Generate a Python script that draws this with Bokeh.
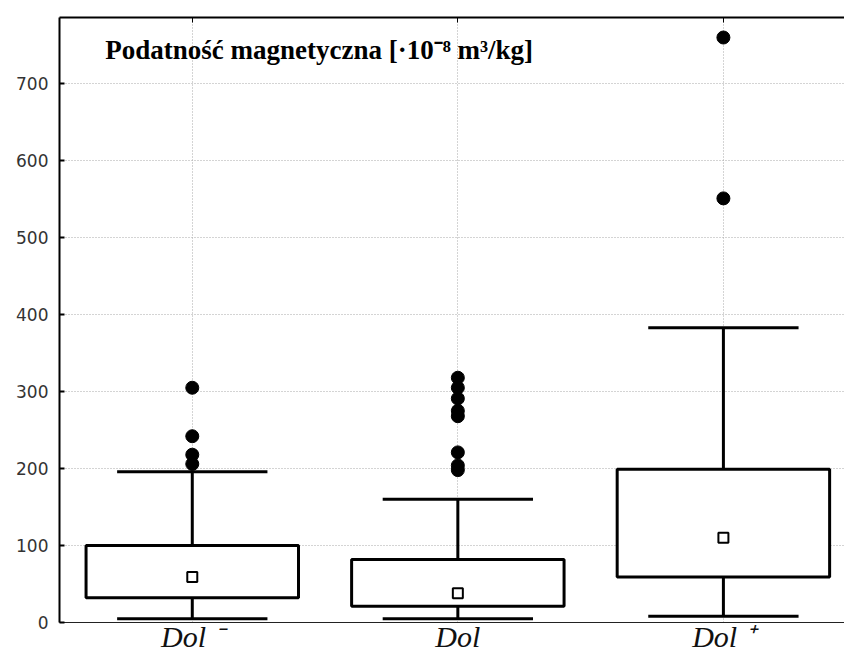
from bokeh.plotting import figure
from bokeh.models import FixedTicker, LinearAxis, Range1d, Label
from bokeh.embed import file_html
from bokeh.resources import INLINE

# ---- data ----
categories = ["Dol ⁻", "Dol", "Dol ⁺"]
lower_whisker = [5, 5, 8]
q1 = [32, 21, 59]
q3 = [100, 82, 199]
upper_whisker = [196, 160, 383]
means = [59, 38, 110]
outlier_cat = [0, 0, 0, 0, 1, 1, 1, 1, 1, 1, 1, 1, 2, 2]
outlier_val = [305, 242, 218, 206, 318, 305, 291, 275, 268, 221, 204, 198, 760, 551]
y_ticks = [0, 100, 200, 300, 400, 500, 600, 700]
title_text = "Podatność magnetyczna [·10⁻⁸ m³/kg]"

xs = [i + 1 for i in range(len(categories))]
box_w = 0.80
cap_half = 0.283

p = figure(width=844, height=655, output_backend="svg", toolbar_location=None,
           x_range=Range1d(0.5, 3.456), y_range=Range1d(0, 786),
           min_border_left=59, min_border_right=0, min_border_top=17,
           min_border_bottom=33)
p.outline_line_color = None
p.background_fill_color = "white"
p.border_fill_color = "white"

# grids
p.xgrid.ticker = FixedTicker(ticks=xs)
p.ygrid.ticker = FixedTicker(ticks=y_ticks)
for g in (p.xgrid, p.ygrid):
    g.grid_line_color = "#a8a8a8"
    g.grid_line_dash = "1 2"
    g.grid_line_width = 1

# axes
p.xaxis.ticker = FixedTicker(ticks=xs)
p.xaxis.major_label_overrides = {x: c for x, c in zip(xs, categories)}
p.xaxis.major_label_text_font = "Liberation Serif"
p.xaxis.major_label_text_font_style = "italic"
p.xaxis.major_label_text_font_size = "30px"
p.xaxis.major_label_text_color = "#111111"
p.xaxis.major_label_standoff = -3
p.xaxis.major_tick_out = 0
p.xaxis.major_tick_in = 0
p.xaxis.minor_tick_line_color = None
p.xaxis.axis_line_width = 1
p.xaxis.axis_line_color = "#222222"

p.yaxis.ticker = FixedTicker(ticks=y_ticks)
p.yaxis.major_label_text_font = "DejaVu Sans"
p.yaxis.major_label_text_font_size = "17px"
p.yaxis.major_label_text_color = "#333333"
p.yaxis.major_label_standoff = 11
p.yaxis.major_tick_out = 0
p.yaxis.major_tick_in = 5
p.yaxis.major_tick_line_width = 2
p.yaxis.minor_tick_line_color = None
p.yaxis.axis_line_width = 2
p.yaxis.axis_line_color = "black"

top_axis = LinearAxis(ticker=FixedTicker(ticks=[], minor_ticks=xs),
                      major_tick_line_color=None, minor_tick_out=0, minor_tick_in=5,
                      minor_tick_line_width=1, minor_tick_line_color="black",
                      axis_line_width=2, axis_line_color="black")
p.add_layout(top_axis, "above")

# whiskers
p.segment(x0=xs, x1=xs, y0=q3, y1=upper_whisker, line_color="black", line_width=3)
p.segment(x0=xs, x1=xs, y0=lower_whisker, y1=q1, line_color="black", line_width=3)
# caps
p.segment(x0=[x - cap_half for x in xs], x1=[x + cap_half for x in xs],
          y0=upper_whisker, y1=upper_whisker, line_color="black", line_width=3)
p.segment(x0=[x - cap_half for x in xs], x1=[x + cap_half for x in xs],
          y0=lower_whisker, y1=lower_whisker, line_color="black", line_width=3)
# boxes
p.vbar(x=xs, width=box_w, bottom=q1, top=q3, fill_color="white",
       line_color="black", line_width=3)
# means
p.scatter(x=xs, y=means, marker="square", size=10, fill_color="white",
          line_color="black", line_width=2)
# outliers
p.scatter(x=[xs[c] for c in outlier_cat], y=outlier_val, marker="circle", size=13,
          fill_color="black", line_color="black")

p.add_layout(Label(x=0.672, y=744, text=title_text, text_font="Liberation Serif",
                   text_font_style="bold", text_font_size="27px", text_color="black",
                   text_baseline="alphabetic"))

open("out.html", "w").write(file_html(p, INLINE))
